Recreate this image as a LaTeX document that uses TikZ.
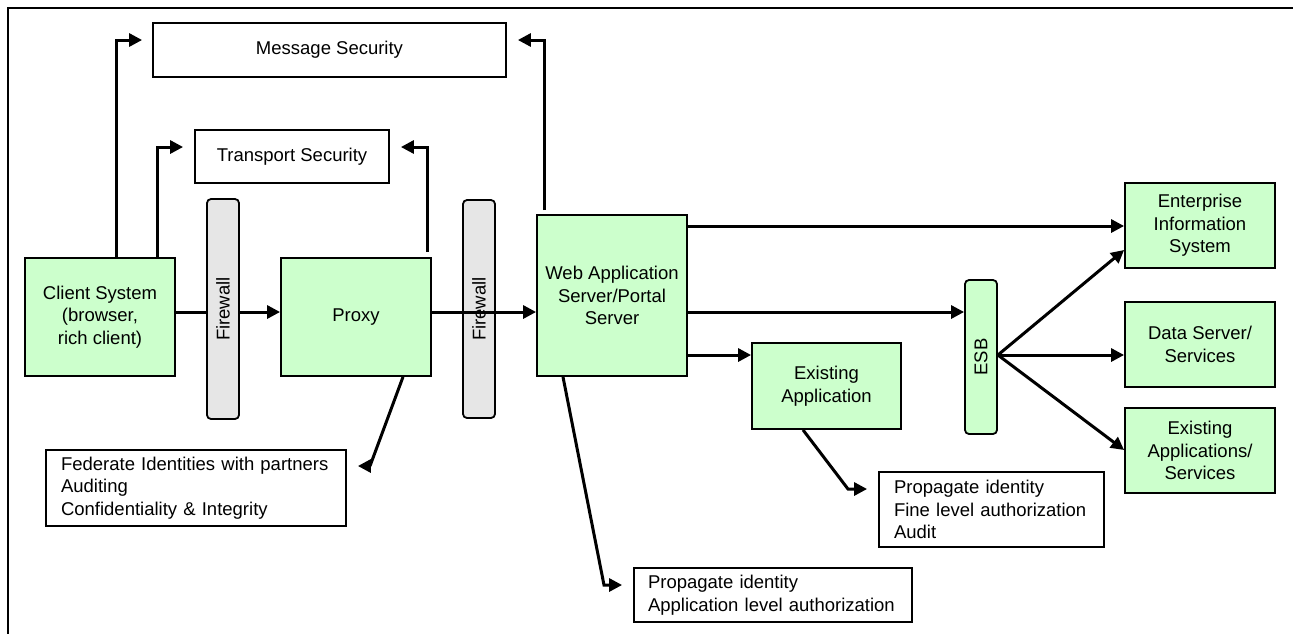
\documentclass[tikz,border=0pt]{standalone}
\usepackage{fontspec}
\setmainfont{Liberation Sans}
\usetikzlibrary{arrows.meta,calc}
\definecolor{boxgreen}{HTML}{CCFFCC}
\definecolor{wallgray}{HTML}{E6E6E6}
\begin{document}
\begin{tikzpicture}[x=1pt,y=-1pt,
  every node/.style={font=\fontsize{18.5}{22.5}\selectfont},
  comp/.style={draw, line width=1.8pt, fill=boxgreen, align=center, inner sep=0pt},
  wall/.style={draw, line width=1.8pt, fill=wallgray, rounded corners=4pt, minimum width=32pt, inner sep=0pt},
  plainbox/.style={draw, line width=1.8pt, fill=white, inner sep=0pt},
  note/.style={draw, line width=1.8pt, align=left, inner ysep=3pt},
  conn/.style={line width=3pt},
  arr/.style={conn, -{Triangle[length=13pt,width=13pt]}},
]
\useasboundingbox (0,0) rectangle (1293,633);
\fill[white] (-2,-2) rectangle (1295,635);

% frame
\draw[line width=1.8pt] (1295,8) -- (8,8) -- (8,635);

% main components
\node[comp, minimum width=150pt, minimum height=118pt] (client) at (100,317) {Client System\\(browser,\\rich client)};
\node[comp, minimum width=150pt, minimum height=118pt] (proxy) at (356,317) {Proxy};
\node[comp, minimum width=150pt, minimum height=161pt] (web) at (612,295.5) {Web Application\\Server/Portal\\Server};
\node[comp, minimum width=149pt, minimum height=86pt] (exapp) at (826.5,386) {Existing\\Application};
\node[comp, minimum width=150pt, minimum height=85pt] (eis) at (1200,225.5) {Enterprise\\Information\\System};
\node[comp, minimum width=150pt, minimum height=85pt] (data) at (1200,344.5) {Data Server/\\Services};
\node[comp, minimum width=150pt, minimum height=85pt] (exapps) at (1200,450.5) {Existing\\Applications/\\Services};

% firewalls and bus
\node[wall, minimum height=220pt] (fw1) at (223,309) {};
\node[rotate=90] (fw1label) at (fw1) {Firewall};
\node[wall, minimum height=218pt] (fw2) at (479,309) {};
\node[rotate=90] (fw2label) at (fw2) {Firewall};
\node[wall, fill=boxgreen, minimum height=154pt] (esb) at (981,357) {};
\node[rotate=90] (esblabel) at (esb) {ESB};

% security layers
\node[plainbox, minimum width=353pt, minimum height=54pt] (msg) at (329.5,50) {Message Security};
\node[plainbox, minimum width=194pt, minimum height=53pt] (tls) at (292,156.5) {Transport Security};

% notes
\node[note, text width=270pt, inner xsep=15pt, minimum height=76pt] (fed) at (196,488)
  {Federate Identities with partners\\Auditing\\Confidentiality \& Integrity};
\node[note, text width=195pt, inner xsep=15pt, minimum height=75pt] (fine) at (991.5,509.5)
  {Propagate identity\\Fine level authorization\\Audit};
\node[note, text width=250pt, inner xsep=14pt, minimum height=54pt] (appauth) at (773,595)
  {Propagate identity\\Application level authorization};

% request flow
\draw[conn] (client.east |- 0,312) -- (fw1.west |- 0,312);
\draw[arr] (fw1.east |- 0,312) -- (proxy.west |- 0,312);
\draw[arr] (proxy.east |- 0,312) -- (web.west |- 0,312);
\draw[arr] (web.east |- 0,312) -- (esb.west |- 0,312);
\draw[arr] (web.east |- 0,226) -- (eis.west |- 0,226);
\draw[arr] (web.east |- 0,355) -- (exapp.west |- 0,355);
\coordinate (hub) at (esb.east |- 0,355);
\draw[arr] (hub) -- (eis.west |- 0,250);
\draw[arr] (hub) -- (data.west |- 0,355);
\draw[arr] (hub) -- (exapps.west |- 0,450);

% security layer links
\draw[arr, shorten >=10pt] (client.north -| 116,0) |- (msg.west |- 0,40);
\draw[arr, shorten >=11pt] (client.north -| 157,0) |- (tls.west |- 0,147);
\draw[arr, shorten >=11pt] ($(proxy.north -| 427,0)+(0,-5)$) |- (tls.east |- 0,147);
\draw[arr, shorten >=11pt] ($(web.north -| 544,0)+(0,-4)$) |- (msg.east |- 0,40);

% note links
\draw[arr, shorten >=11pt] (proxy.south -| 403,0) -- (370,466) -- (fed.east |- 0,466);
\draw[arr, shorten >=11pt] (web.south -| 563,0) -- (604,585) -- (appauth.west |- 0,585);
\draw[arr, shorten >=11pt] (exapp.south -| 803,0) -- (848,489) -- (fine.west |- 0,489);
\end{tikzpicture}
\end{document}
